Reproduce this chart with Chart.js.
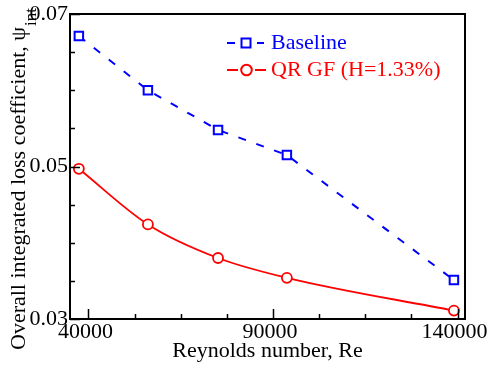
<!DOCTYPE html>
<html>
<head>
<meta charset="utf-8">
<script src="https://cdn.jsdelivr.net/npm/chart.js@4/dist/chart.umd.min.js"></script>
<style>
  html, body { margin: 0; padding: 0; background: #fff; }
  #wrap { width: 487px; height: 367px; }
</style>
</head>
<body>
<div id="wrap"><canvas id="lossChart" width="487" height="367"></canvas></div>
<script>
// ---- data ----
const reynolds = [37400, 56100, 75100, 93750, 139000];
const baselinePsi = [0.0671, 0.0600, 0.0548, 0.0515, 0.0351];
const qrgfPsi = [0.0497, 0.0424, 0.0380, 0.0354, 0.0311];

const seriesNames = ["Baseline", "QR GF (H=1.33%)"];

// axis ticks
const xMajorTicks = [40000, 90000, 140000];
const xMinorTicks = [52500, 65000, 77500, 102500, 115000, 127500];
const yMajorTicks = [0.03, 0.05, 0.07];
const yMinorTicks = [0.035, 0.04, 0.045, 0.055, 0.06, 0.065];

const FONT = "'Liberation Serif', 'Times New Roman', serif";

// frame, inward ticks, y title with subscript, legend
const decorPlugin = {
  id: "decor",
  afterDraw(chart) {
    const ctx = chart.ctx;
    const area = chart.chartArea;
    const xs = chart.scales.x;
    const ys = chart.scales.y;

    ctx.save();
    ctx.strokeStyle = "#000";
    ctx.lineWidth = 1.5;
    xMajorTicks.concat(xMinorTicks).forEach(v => {
      const len = xMajorTicks.includes(v) ? 10 : 5;
      const px = Math.round(xs.getPixelForValue(v)) + 0.5;
      ctx.beginPath();
      ctx.moveTo(px, area.bottom);
      ctx.lineTo(px, area.bottom - len);
      ctx.stroke();
    });
    yMajorTicks.concat(yMinorTicks).forEach(v => {
      const len = yMajorTicks.includes(v) ? 10 : 5;
      const py = Math.round(ys.getPixelForValue(v)) + 0.5;
      ctx.beginPath();
      ctx.moveTo(area.left, py);
      ctx.lineTo(area.left + len, py);
      ctx.stroke();
    });

    // frame
    ctx.lineWidth = 2;
    ctx.strokeRect(area.left, area.top, area.right - area.left, area.bottom - area.top);

    // y title, rotated, with subscript
    ctx.translate(25, 350);
    ctx.rotate(-Math.PI / 2);
    ctx.fillStyle = "#000";
    ctx.textAlign = "left";
    ctx.textBaseline = "alphabetic";
    ctx.font = "22px " + FONT;
    const main = "Overall integrated loss coefficient, \u03c8";
    ctx.fillText(main, 0, 0);
    const w = ctx.measureText(main).width;
    ctx.font = "17px " + FONT;
    ctx.fillText("int", w + 1, 11);
    ctx.restore();

    // legend
    const rows = [43, 70];
    chart.data.datasets.forEach((ds, i) => {
      const y = rows[i];
      ctx.save();
      ctx.strokeStyle = ds.borderColor;
      ctx.lineWidth = 2;
      ctx.beginPath();
      ctx.moveTo(227, y); ctx.lineTo(i === 0 ? 235 : 238, y);
      ctx.moveTo(i === 0 ? 257 : 255, y); ctx.lineTo(i === 0 ? 264 : 266, y);
      ctx.stroke();
      ctx.fillStyle = "#fff";
      ctx.beginPath();
      if (ds.pointStyle === "rect") {
        ctx.rect(241.5, y - 4.5, 9, 9);
      } else {
        ctx.arc(246.5, y, 5.3, 0, Math.PI * 2);
      }
      ctx.fill();
      ctx.stroke();
      ctx.fillStyle = ds.borderColor;
      ctx.font = "22px " + FONT;
      ctx.textAlign = "left";
      ctx.textBaseline = "middle";
      ctx.fillText(ds.label, 271, y);
      ctx.restore();
    });
  }
};

new Chart(document.getElementById("lossChart"), {
  type: "line",
  data: {
    datasets: [
      {
        label: seriesNames[0],
        data: reynolds.map((r, i) => ({ x: r, y: baselinePsi[i] })),
        borderColor: "#0000ff",
        backgroundColor: "#ffffff",
        borderWidth: 2,
        borderDash: [8, 11],
        pointStyle: "rect",
        pointRadius: 6,
        pointBorderWidth: 2,
        tension: 0
      },
      {
        label: seriesNames[1],
        data: reynolds.map((r, i) => ({ x: r, y: qrgfPsi[i] })),
        borderColor: "#ff0000",
        backgroundColor: "#ffffff",
        borderWidth: 1.8,
        pointStyle: "circle",
        pointRadius: 5,
        pointBorderWidth: 1.8,
        cubicInterpolationMode: "monotone"
      }
    ]
  },
  options: {
    responsive: false,
    animation: false,
    devicePixelRatio: 1,
    layout: { padding: { left: 0, right: 22, top: 14, bottom: 0 } },
    plugins: {
      legend: { display: false },
      tooltip: { enabled: false }
    },
    scales: {
      x: {
        type: "linear",
        min: 35000,
        max: 142000,
        grid: { display: false, drawTicks: false },
        border: { display: false },
        afterBuildTicks: s => { s.ticks = xMajorTicks.map(v => ({ value: v })); },
        afterFit: s => { s.height = 48; s.paddingLeft = 0; s.paddingRight = 0; },
        ticks: {
          color: "#000",
          padding: 0,
          labelOffset: -3,
          maxRotation: 0,
          font: { family: FONT, size: 22 },
          callback: v => String(v)
        },
        title: {
          display: true,
          text: "Reynolds number, Re",
          color: "#000",
          padding: { top: 0, bottom: 3 },
          font: { family: FONT, size: 22 }
        }
      },
      y: {
        min: 0.03,
        max: 0.07,
        grid: { display: false, drawTicks: false },
        border: { display: false },
        afterBuildTicks: s => { s.ticks = yMajorTicks.map(v => ({ value: v })); },
        afterFit: s => { s.width = 70; s.paddingTop = 0; s.paddingBottom = 0; },
        ticks: {
          color: "#000",
          padding: 2,
          font: { family: FONT, size: 22 },
          callback: v => v.toFixed(2)
        }
      }
    }
  },
  plugins: [decorPlugin]
});
</script>
</body>
</html>
